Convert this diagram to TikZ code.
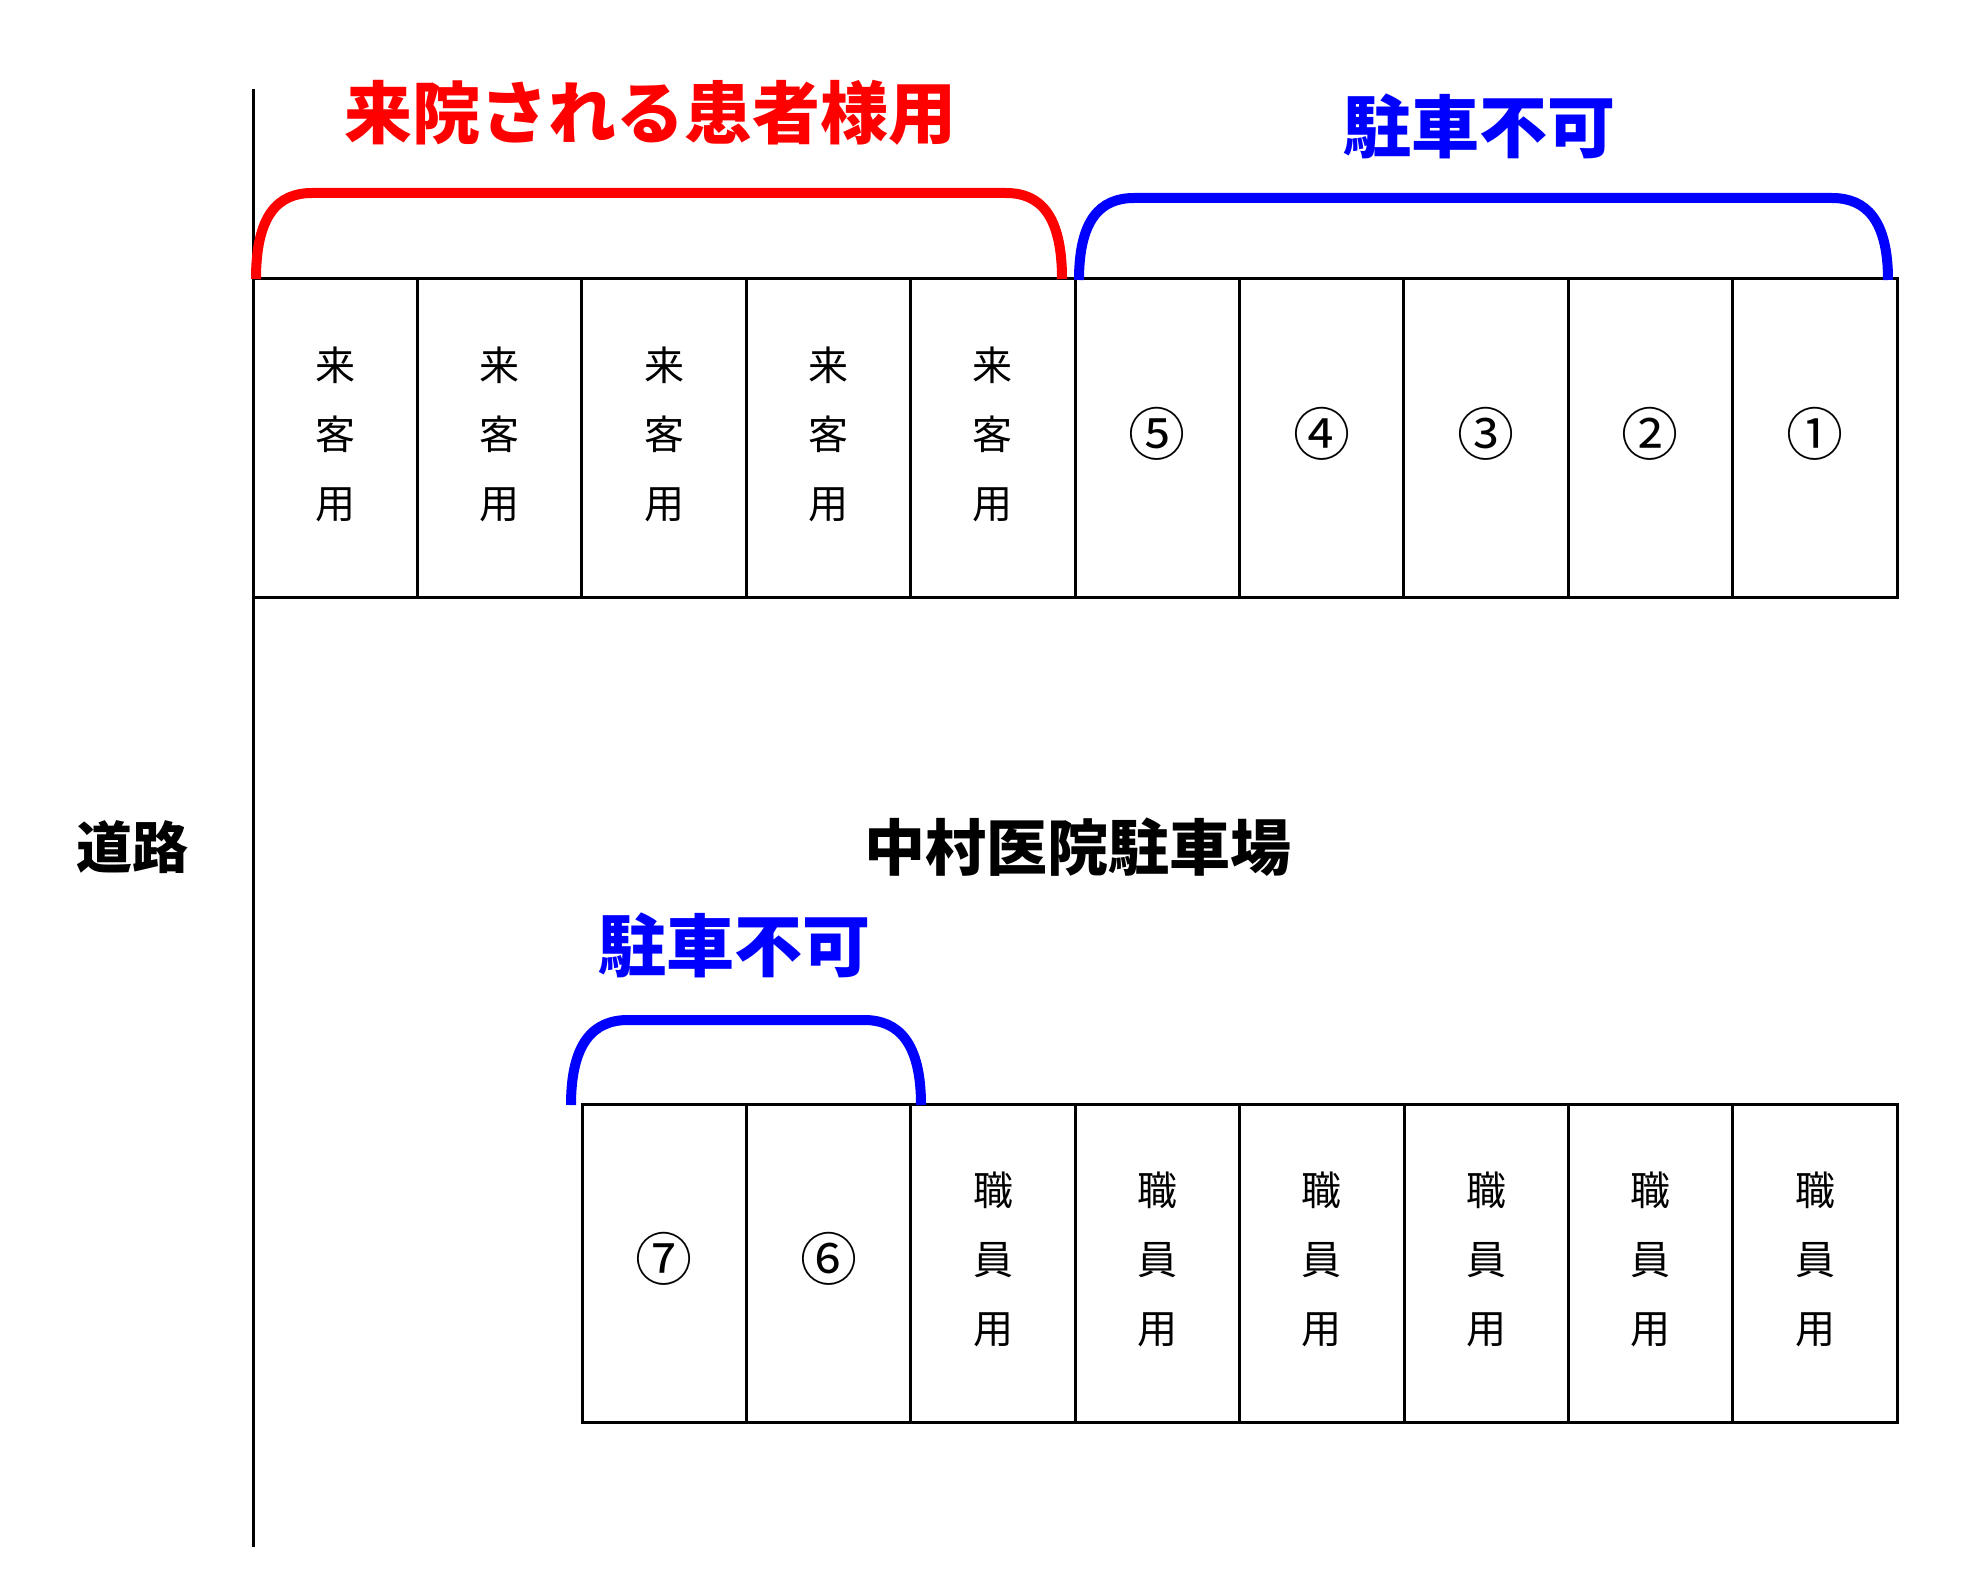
\documentclass[tikz,border=0pt]{standalone}
\usepackage{fontspec}
\newfontfamily\jp{Noto Sans CJK JP}
\definecolor{pred}{RGB}{255,0,0}
\definecolor{pblue}{RGB}{0,0,255}
\begin{document}
\begin{tikzpicture}[x=1pt,y=-1pt,
  cell/.style={draw=black,line width=3pt,minimum width=164.4pt,minimum height=318pt,inner sep=0pt,outer sep=0pt,anchor=north west},
  celltxt/.style={font={\jp\fontsize{40}{69}\selectfont},align=center,inner sep=0pt,yshift=4pt},
  numtxt/.style={font={\jp\fontsize{57}{60}\selectfont},inner sep=0pt,yshift=4pt},
  title/.style={font={\jp\bfseries\fontsize{68}{70}\selectfont},inner sep=0pt},
  brace/.style={line width=10pt}
]
\useasboundingbox (0,0) rectangle (1972,1578);
% road line
\coordinate (rtop) at (253,89);
\coordinate (rbot) at (253,1547);
\draw[line width=3pt] (rtop) -- (rbot);
% top row
\foreach \i in {0,...,4}{
  \node[cell] (t\i) at ({253+164.4*\i},279) {};
  \node[celltxt] (tl\i) at (t\i.center) {来\\客\\用};
}
\foreach \i/\n in {5/⑤,6/④,7/③,8/②,9/①}{
  \node[cell] (t\i) at ({253+164.4*\i},279) {};
  \node[numtxt] (tl\i) at (t\i.center) {\n};
}
% bottom row
\foreach \i/\n in {0/⑦,1/⑥}{
  \node[cell] (b\i) at ({582+164.4*\i},1104) {};
  \node[numtxt] (bl\i) at (b\i.center) {\n};
}
\foreach \i in {2,...,7}{
  \node[cell] (b\i) at ({582+164.4*\i},1104) {};
  \node[celltxt] (bl\i) at (b\i.center) {職\\員\\用};
}
% brackets
\draw[brace,pred] (256,279) .. controls (256,215) and (278,193) .. (312,193) -- (1006,193) .. controls (1040,193) and (1062,215) .. (1062,279);
\draw[brace,pblue] (1079,280) .. controls (1079,220) and (1100,198) .. (1134,198) -- (1832,198) .. controls (1866,198) and (1888,220) .. (1888,280);
\draw[brace,pblue] (571,1105) .. controls (571,1042) and (594,1020) .. (628,1020) -- (864,1020) .. controls (898,1020) and (921,1042) .. (921,1105);
% titles
\node[title,text=pred] (ttl1) at (650,113) {来院される患者様用};
\node[title,text=pblue] (ttl2) at (1479,126) {駐車不可};
\node[title,text=pblue] (ttl3) at (734,945) {駐車不可};
\node[font={\jp\bfseries\fontsize{61}{64}\selectfont},inner sep=0pt] (lot) at (1078,847) {中村医院駐車場};
\node[font={\jp\bfseries\fontsize{56}{60}\selectfont},inner sep=0pt] (road) at (132,847) {道路};
\end{tikzpicture}
\end{document}
